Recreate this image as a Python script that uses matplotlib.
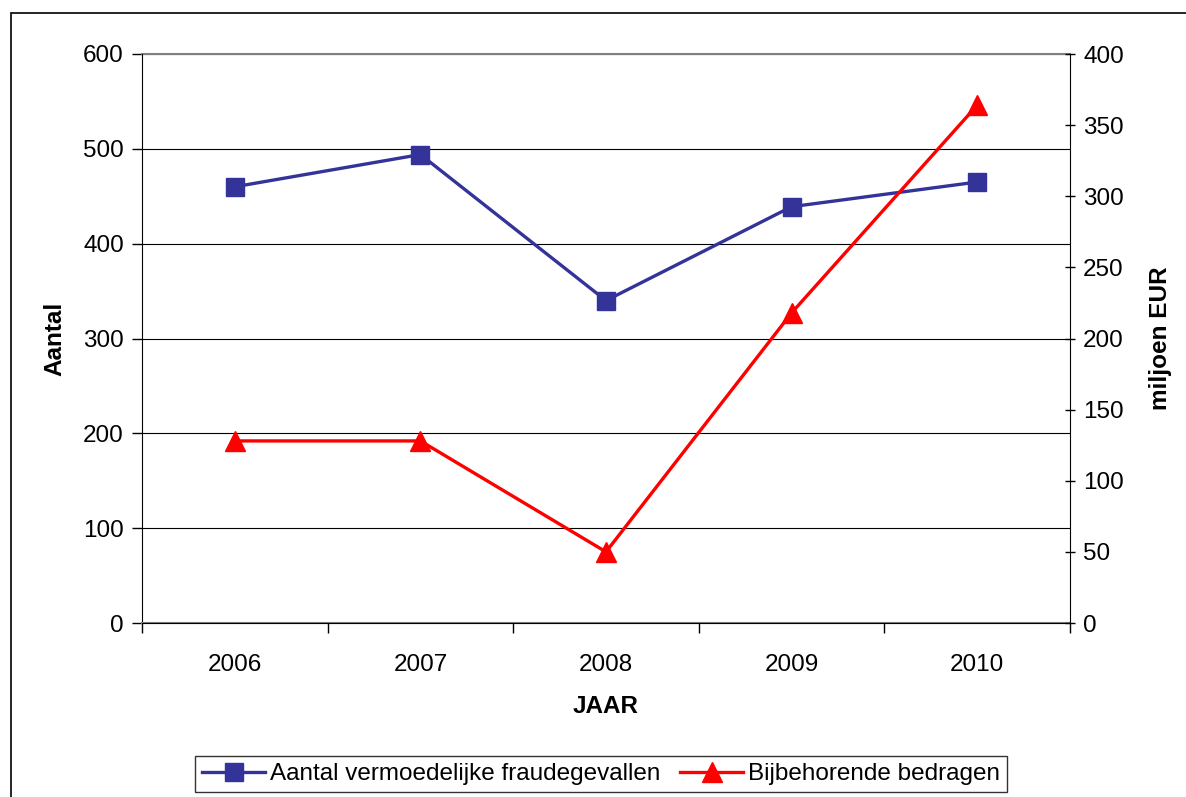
import matplotlib.pyplot as plt
from matplotlib.patches import Rectangle

plt.rcParams['font.family'] = ['Liberation Sans', 'DejaVu Sans']

years = ['2006', '2007', '2008', '2009', '2010']
aantal = [460, 494, 340, 439, 465]
bedragen = [128, 128, 50, 218, 364]

fig = plt.figure(figsize=(11.86, 7.97), dpi=100)
ax = fig.add_axes([142 / 1186, 1 - 623 / 797, 928 / 1186, 569 / 797])
ax2 = ax.twinx()

x = list(range(len(years)))
l1, = ax.plot(x, aantal, color='#333399', lw=2.4, marker='s', markersize=13,
              label='Aantal vermoedelijke fraudegevallen')
l2, = ax2.plot(x, bedragen, color='#ff0000', lw=2.4, marker='^', markersize=15,
               label='Bijbehorende bedragen')

ax.set_xlim(-0.5, 4.5)
ax.set_ylim(0, 600)
ax2.set_ylim(0, 400)
ax.set_yticks(range(0, 601, 100))
ax2.set_yticks(range(0, 401, 50))
ax.set_xticks(x)
ax.set_xticklabels(years)
ax.set_xticks([i + 0.5 for i in range(-1, 5)], minor=True)
ax.tick_params(axis='x', which='major', length=0, pad=22, labelsize=17.5)
ax.tick_params(axis='x', which='minor', length=7, width=1, direction='out')
ax.tick_params(axis='y', length=7, width=1, direction='out', labelsize=17.5, pad=6)
ax2.tick_params(axis='y', length=7, width=1, direction='inout', labelsize=17.5, pad=6)

ax.grid(axis='y', color='black', lw=0.8)
ax.set_axisbelow(True)
for a in (ax, ax2):
    a.spines['top'].set_visible(False)
    a.spines['right'].set_visible(False)
    a.spines['left'].set_visible(False)
ax.spines['left'].set_visible(True)
ax2.spines['right'].set_visible(True)
ax.spines['bottom'].set_color('#808080')
ax.spines['bottom'].set_linewidth(1.5)
ax.axhline(600, color='#808080', lw=1.5, clip_on=False)

ax.set_xlabel('JAAR', fontsize=17.5, fontweight='bold', labelpad=14)
ax.set_ylabel('Aantal', fontsize=17.5, fontweight='bold', labelpad=12)
ax2.set_ylabel('miljoen EUR', fontsize=17.5, fontweight='bold', labelpad=18)

leg = fig.legend(handles=[l1, l2], loc='center', bbox_to_anchor=(601 / 1186, 1 - 774 / 797),
                 ncol=2, fontsize=17.5, frameon=True, fancybox=False, edgecolor='black',
                 handlelength=2.6, handletextpad=0.2, columnspacing=0.8,
                 borderpad=0.3, borderaxespad=0)
leg.get_frame().set_linewidth(1)

fig.patches.append(Rectangle((11 / 1186, -0.05), 1.1, 1 - 13 / 797 + 0.05,
                             transform=fig.transFigure, fill=False,
                             edgecolor='black', lw=1.2))

fig.savefig('out.png', dpi=100)
